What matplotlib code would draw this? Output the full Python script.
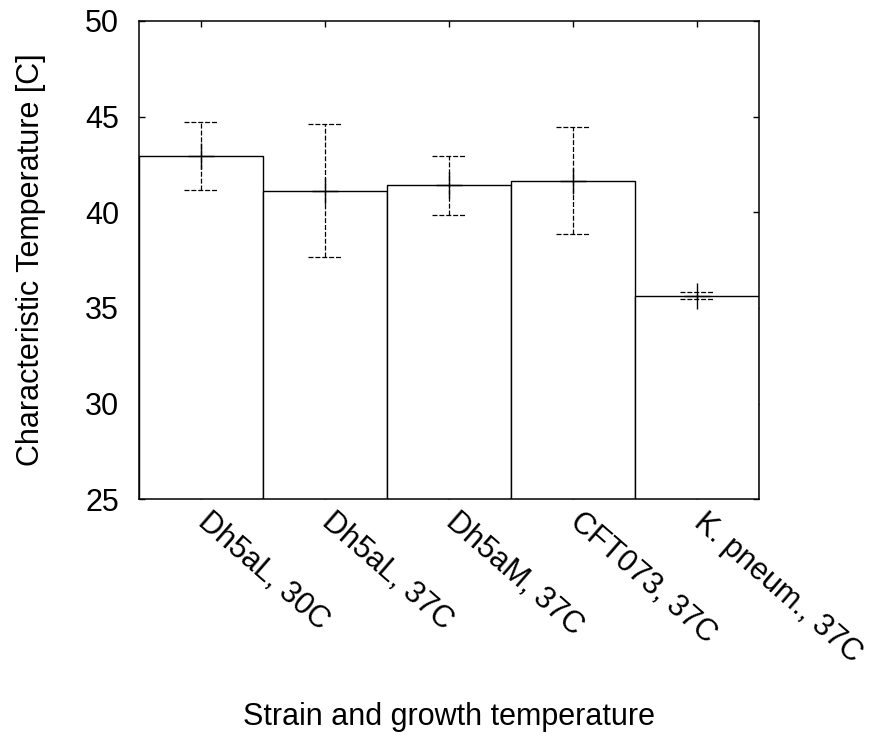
import matplotlib
matplotlib.use("Agg")
import matplotlib.pyplot as plt
import matplotlib.transforms as mtransforms
import numpy as np

plt.rcParams['font.family'] = ['Liberation Sans', 'DejaVu Sans']

categories = ["Dh5aL, 30C", "Dh5aL, 37C", "Dh5aM, 37C", "CFT073, 37C", "K. pneum., 37C"]
values = [42.94, 41.13, 41.41, 41.65, 35.64]
errors = [1.76, 3.49, 1.55, 2.80, 0.17]
yticks = [25, 30, 35, 40, 45, 50]

fig = plt.figure(figsize=(8.72, 7.36), dpi=100)
ax = fig.add_axes([138.5/872, 1-499.3/736, (759-138.5)/872, (499.3-21)/736])

x = np.arange(len(categories))
ax.bar(x, values, width=1.0, bottom=0, color='white', edgecolor='black', linewidth=1.0, zorder=2)

dash = (0, (4, 1.5))
ax.vlines(x, np.array(values) - np.array(errors), np.array(values) + np.array(errors),
          colors='black', linewidth=0.9, linestyles=[dash], zorder=3)
capw = 0.135
for xi, v, e in zip(x, values, errors):
    ax.hlines([v - e, v + e], xi - capw, xi + capw, colors='black', linewidth=0.9,
              linestyles=[dash], zorder=3)
ax.plot(x, values, linestyle='none', marker='+', markersize=18.5, markeredgewidth=1.0,
        color='black', zorder=4)

ax.set_xlim(-0.5, len(categories) - 0.5)
ax.set_ylim(25, 50)
ax.set_yticks(yticks)
ax.set_xticks(x)
ax.set_xticklabels(categories, rotation=-41, ha='left', va='top', rotation_mode='anchor')
ax.tick_params(axis='both', direction='in', length=4.3, width=1.0, labelsize=22,
               top=True, right=True)
ax.tick_params(axis='y', pad=14)
ax.tick_params(axis='x', pad=5.5)
offset = mtransforms.ScaledTranslation(0.11, 0, fig.dpi_scale_trans)
for lab in ax.get_xticklabels():
    lab.set_transform(lab.get_transform() + offset)
for s in ax.spines.values():
    s.set_linewidth(1.1)

ax.set_ylabel("Characteristic Temperature [C]", fontsize=22, labelpad=28)
fig.text(449/872, 1-717/736, "Strain and growth temperature", fontsize=22,
         ha='center', va='center')

fig.savefig("out.png", dpi=100)
